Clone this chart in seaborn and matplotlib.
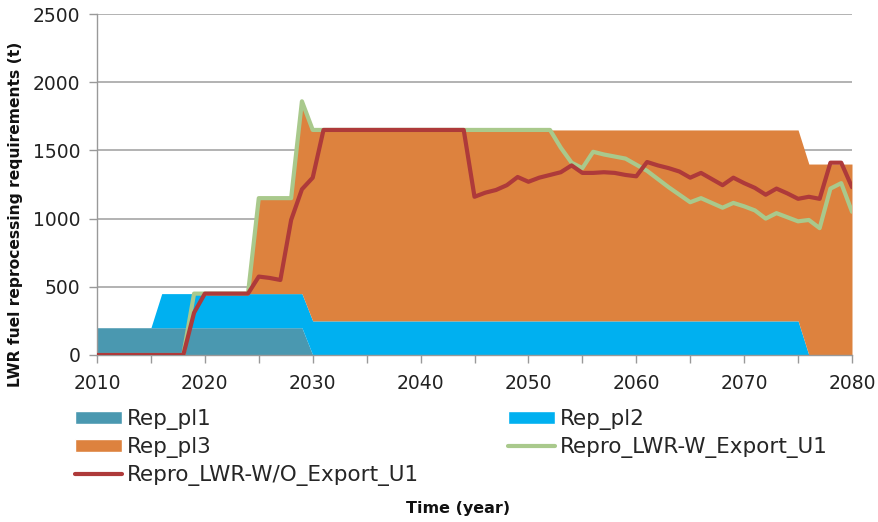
import matplotlib
matplotlib.use("Agg")
import matplotlib.pyplot as plt
import seaborn as sns
import pandas as pd
from matplotlib.patches import Patch
from matplotlib.lines import Line2D

years = list(range(2010, 2081))

rep_pl1 = [200, 200, 200, 200, 200, 200, 200, 200, 200, 200,   # 2010-2019
           200, 200, 200, 200, 200, 200, 200, 200, 200, 200,   # 2020-2029
           0, 0, 0, 0, 0, 0, 0, 0, 0, 0,                       # 2030-2039
           0, 0, 0, 0, 0, 0, 0, 0, 0, 0,                       # 2040-2049
           0, 0, 0, 0, 0, 0, 0, 0, 0, 0,                       # 2050-2059
           0, 0, 0, 0, 0, 0, 0, 0, 0, 0,                       # 2060-2069
           0, 0, 0, 0, 0, 0, 0, 0, 0, 0,                       # 2070-2079
           0]                                                  # 2080
rep_pl2 = [0, 0, 0, 0, 0, 0, 250, 250, 250, 250,
           250, 250, 250, 250, 250, 250, 250, 250, 250, 250,
           250, 250, 250, 250, 250, 250, 250, 250, 250, 250,
           250, 250, 250, 250, 250, 250, 250, 250, 250, 250,
           250, 250, 250, 250, 250, 250, 250, 250, 250, 250,
           250, 250, 250, 250, 250, 250, 250, 250, 250, 250,
           250, 250, 250, 250, 250, 250, 0, 0, 0, 0,
           0]
rep_pl3 = [0, 0, 0, 0, 0, 0, 0, 0, 0, 0,
           0, 0, 0, 0, 0, 700, 700, 700, 700, 1400,
           1400, 1400, 1400, 1400, 1400, 1400, 1400, 1400, 1400, 1400,
           1400, 1400, 1400, 1400, 1400, 1400, 1400, 1400, 1400, 1400,
           1400, 1400, 1400, 1400, 1400, 1400, 1400, 1400, 1400, 1400,
           1400, 1400, 1400, 1400, 1400, 1400, 1400, 1400, 1400, 1400,
           1400, 1400, 1400, 1400, 1400, 1400, 1400, 1400, 1400, 1400,
           1400]
repro_w_export = [0, 0, 0, 0, 0, 0, 0, 0, 0, 450,
                  450, 450, 450, 450, 450, 1150, 1150, 1150, 1150, 1860,
                  1650, 1650, 1650, 1650, 1650, 1650, 1650, 1650, 1650, 1650,
                  1650, 1650, 1650, 1650, 1650, 1650, 1650, 1650, 1650, 1650,
                  1650, 1650, 1650, 1520, 1410, 1370, 1490, 1470, 1455, 1440,
                  1395, 1350, 1290, 1230, 1175, 1120, 1150, 1115, 1080, 1115,
                  1090, 1060, 1000, 1040, 1010, 980, 990, 930, 1220, 1260,
                  1050]
repro_wo_export = [0, 0, 0, 0, 0, 0, 0, 0, 0, 310,
                   450, 450, 450, 450, 450, 575, 565, 550, 990, 1215,
                   1300, 1650, 1650, 1650, 1650, 1650, 1650, 1650, 1650, 1650,
                   1650, 1650, 1650, 1650, 1650, 1160, 1190, 1210, 1245, 1305,
                   1270, 1300, 1320, 1340, 1390, 1335, 1335, 1340, 1335, 1320,
                   1310, 1415, 1390, 1370, 1345, 1300, 1335, 1290, 1245, 1300,
                   1260, 1225, 1175, 1220, 1185, 1145, 1160, 1145, 1410, 1410,
                   1230]

area_labels = ["Rep_pl1", "Rep_pl2", "Rep_pl3"]
line_labels = ["Repro_LWR-W_Export_U1", "Repro_LWR-W/O_Export_U1"]
x_ticks = [2010, 2020, 2030, 2040, 2050, 2060, 2070, 2080]
y_ticks = [0, 500, 1000, 1500, 2000, 2500]

c_pl1 = "#4A98B0"
c_pl2 = "#00B0F0"
c_pl3 = "#DD823E"
c_w = "#A9C98C"
c_wo = "#AE3A3A"

sns.set_theme(style="white")
plt.rcParams["font.family"] = ["DejaVu Sans"]

fig = plt.figure(figsize=(8.79, 5.22), dpi=100)
ax = fig.add_axes([97 / 879, 1 - 355 / 522, (852 - 97) / 879, (355 - 14) / 522])

ax.stackplot(years, rep_pl1, rep_pl2, rep_pl3,
             colors=[c_pl1, c_pl2, c_pl3], linewidth=0, zorder=2)

df = pd.DataFrame({"year": years, line_labels[0]: repro_w_export,
                   line_labels[1]: repro_wo_export})
sns.lineplot(data=df, x="year", y=line_labels[0], color=c_w, linewidth=3.0,
             ax=ax, zorder=3)
sns.lineplot(data=df, x="year", y=line_labels[1], color=c_wo, linewidth=3.0,
             ax=ax, zorder=4)

ax.set_xlim(2010, 2080)
ax.set_ylim(0, 2500)
ax.set_xticks(x_ticks)
ax.set_xticks(list(range(2010, 2081, 5)), minor=True)
ax.set_yticks(y_ticks)
ax.set_xticklabels([str(v) for v in x_ticks], fontsize=13.5, color="#222222")
ax.set_yticklabels([str(v) for v in y_ticks], fontsize=13.5, color="#222222")
ax.tick_params(axis="x", which="both", direction="out", length=6, width=1,
               color="#999999", bottom=True, pad=8)
ax.tick_params(axis="y", direction="out", length=6, width=1,
               color="#999999", left=True, pad=6)
ax.grid(axis="y", color="#A6A6A6", linewidth=1.2, zorder=0)
ax.set_axisbelow(True)
for s in ["top", "right"]:
    ax.spines[s].set_visible(False)
for s in ["left", "bottom"]:
    ax.spines[s].set_color("#999999")
    ax.spines[s].set_linewidth(1)
ax.set_xlabel("")
ax.set_ylabel("LWR fuel reprocessing requirements (t)", fontsize=11.2,
              fontweight="bold", color="#111111",
              family=["Liberation Sans Narrow", "DejaVu Sans"])
ax.yaxis.set_label_coords(-74 / 755, (355 - 214) / 341)

fig.text(458 / 879, 1 - 508 / 522, "Time (year)", ha="center", va="center",
         fontsize=11.5, fontweight="bold", color="#111111")

h_pl1 = Patch(facecolor=c_pl1, label=area_labels[0])
h_pl2 = Patch(facecolor=c_pl2, label=area_labels[1])
h_pl3 = Patch(facecolor=c_pl3, label=area_labels[2])
h_w = Line2D([], [], color=c_w, linewidth=3, label=line_labels[0])
h_wo = Line2D([], [], color=c_wo, linewidth=3, label=line_labels[1])

leg_kw = dict(loc="upper left", frameon=False, fontsize=15.5, borderpad=0,
              borderaxespad=0, handlelength=2.2, handletextpad=0.2,
              labelspacing=0.33, handleheight=0.6)
leg1 = fig.legend(handles=[h_pl1, h_pl3, h_wo],
                  bbox_to_anchor=(75 / 879, 1 - 409 / 522), **leg_kw)
leg2 = fig.legend(handles=[h_pl2, h_w],
                  bbox_to_anchor=(508 / 879, 1 - 409 / 522), **leg_kw)

fig.savefig("out.png", dpi=100)
